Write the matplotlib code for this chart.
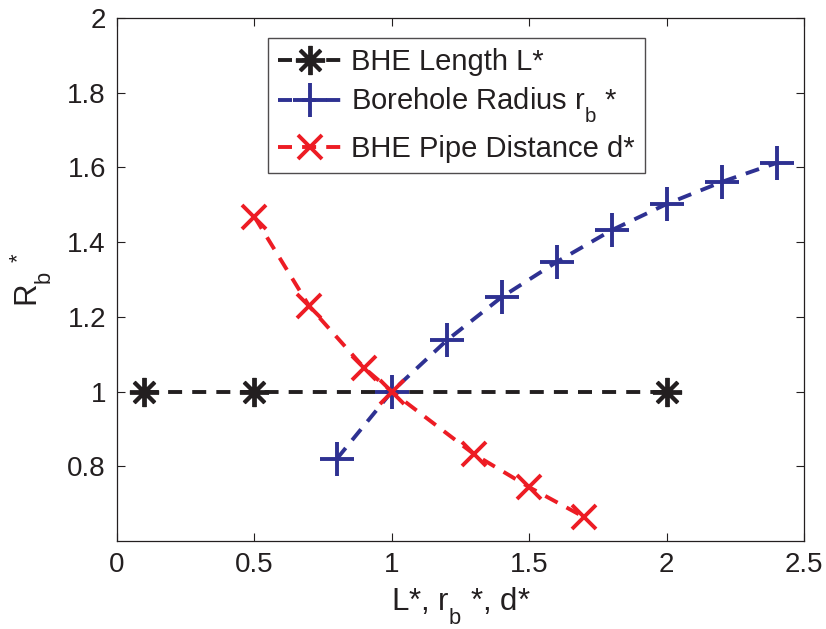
import matplotlib
matplotlib.use("Agg")
import matplotlib.pyplot as plt
from matplotlib.ticker import FuncFormatter

try:
    import matplotlib._mathtext as _mt
    _mt.FontConstantsBase.sub1 = 0.85
    _mt.FontConstantsBase.sub2 = 0.85
except Exception:
    pass

plt.rcParams['font.family'] = ['Liberation Sans', 'DejaVu Sans']
plt.rcParams['mathtext.fontset'] = 'custom'
plt.rcParams['mathtext.rm'] = 'Liberation Sans'
plt.rcParams['mathtext.it'] = 'Liberation Sans'

# Data
length_x = [0.1, 0.5, 2.0]
length_y = [1.0, 1.0, 1.0]

radius_x = [0.8, 1.0, 1.2, 1.4, 1.6, 1.8, 2.0, 2.2, 2.4]
radius_y = [0.820, 1.0, 1.137, 1.253, 1.347, 1.432, 1.502, 1.561, 1.612]

dist_x = [0.5, 0.7, 0.9, 1.0, 1.3, 1.5, 1.7]
dist_y = [1.468, 1.228, 1.063, 1.0, 0.832, 0.744, 0.664]

labels = ['BHE Length L*', r'Borehole Radius r$_\mathregular{b}$ *', 'BHE Pipe Distance d*']
xticks = [0, 0.5, 1, 1.5, 2, 2.5]
yticks = [0.8, 1.0, 1.2, 1.4, 1.6, 1.8, 2.0]

c_black = '#231F20'
c_blue = '#2E3192'
c_red = '#ED1C24'

fig = plt.figure(figsize=(8.26, 6.29), dpi=100)
ax = fig.add_axes([117/826, 88/629, (804-117)/826, (541-18)/629])

lw = 2.8
dash = (0, (3.6, 2.6))
ax.plot(length_x, length_y, linestyle=dash, color=c_black, lw=lw,
        marker=(8, 2, 0), markersize=21, markeredgewidth=2.8, label=labels[0])
ax.plot(radius_x, radius_y, linestyle=dash, color=c_blue, lw=lw,
        marker='+', markersize=24, markeredgewidth=2.8, label=labels[1])
ax.plot(dist_x, dist_y, linestyle=dash, color=c_red, lw=lw,
        marker='x', markersize=17, markeredgewidth=2.8, label=labels[2])

ax.set_xlim(0, 2.5)
ax.set_ylim(0.6, 2.0)
ax.set_xticks(xticks)
ax.set_yticks(yticks)
fmt = FuncFormatter(lambda v, p: ('%g' % v))
ax.xaxis.set_major_formatter(fmt)
ax.yaxis.set_major_formatter(fmt)
ax.tick_params(direction='in', length=6, width=0.8, top=True, right=True,
               labelsize=20, colors='#231F20', pad=8)
for s in ax.spines.values():
    s.set_linewidth(0.9)
    s.set_color('#231F20')

ax.set_xlabel(r'L*, r$_\mathregular{b}$ *, d*', fontsize=22.5, color='#231F20', labelpad=5)
ax.set_ylabel(r'R$_\mathregular{b}$ $^\mathregular{*}$', fontsize=22.5, color='#231F20')
ax.yaxis.set_label_coords((54 - 117) / 687, 0.5)

leg = ax.legend(loc='upper left', bbox_to_anchor=(268/826, 1-38/629),
                bbox_transform=fig.transFigure, fontsize=21, frameon=True,
                fancybox=False, edgecolor='#231F20', handlelength=2.2,
                handletextpad=0.3, borderpad=0.35, labelspacing=0.33,
                borderaxespad=0)
leg.get_frame().set_linewidth(1.0)
for t in leg.get_texts():
    t.set_color('#231F20')

fig.savefig('out.png', dpi=100)
